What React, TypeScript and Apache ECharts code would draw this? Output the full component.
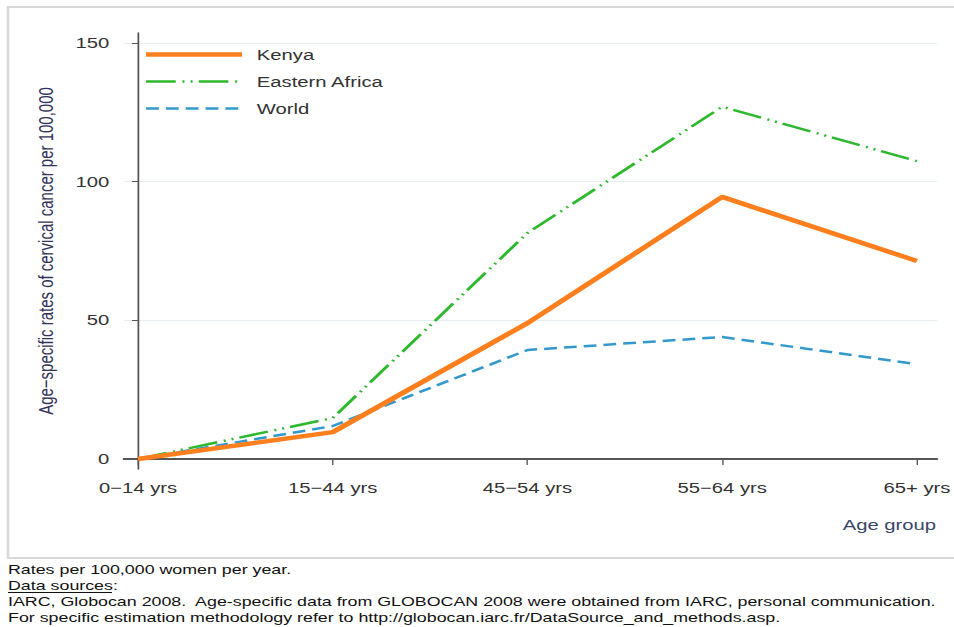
import React, { useEffect, useRef } from "react";
import * as echarts from "echarts";

const categories = ["0\u221214 yrs", "15\u221244 yrs", "45\u221254 yrs", "55\u221264 yrs", "65+ yrs"];
const kenya = [0, 9.7, 49, 94.5, 71.4];
const easternAfrica = [0, 14.8, 81.5, 127, 107.4];
const world = [0, 11.9, 39.3, 44, 34.2];
const yTicks = [0, 50, 100, 150];
const xTicks = [0, 1, 2, 3, 4];
const footnotes = [
  "Rates per 100,000 women per year.",
  "Data sources:",
  "IARC, Globocan 2008.  Age-specific data from GLOBOCAN 2008 were obtained from IARC, personal communication.",
  "For specific estimation methodology refer to http://globocan.iarc.fr/DataSource_and_methods.asp.",
];

const STRETCH = 1.35;
const W = 954 / STRETCH;
const H = 627;

const toPairs = (arr: number[]) => arr.map((v, i) => [i, v]);

export default function App() {
  const ref = useRef<HTMLDivElement>(null);
  useEffect(() => {
    if (!ref.current) return;
    const chart = echarts.init(ref.current, null, { renderer: "svg" });
    const font = "'Liberation Sans', Arial, sans-serif";
    const footY = [569, 585, 601, 617];
    const sx = (x: number) => x / STRETCH;
    chart.setOption({
      animation: false,
      backgroundColor: "#ffffff",
      grid: { left: sx(124), right: sx(16), top: 33, bottom: 158 },
      legend: {
        orient: "vertical",
        left: sx(143),
        top: 47,
        padding: 0,
        itemWidth: sx(96),
        itemHeight: 14,
        itemGap: 12,
        itemStyle: { opacity: 0 },
        lineStyle: { width: "inherit" },
        textStyle: { fontFamily: font, fontSize: 15, color: "#333", padding: [0, 0, 0, 6] },
        data: ["Kenya", "Eastern Africa", "World"],
      },
      xAxis: {
        type: "value",
        min: -0.072,
        max: 4.103,
        axisLine: { show: true, lineStyle: { color: "#555", width: 2 } },
        axisTick: { show: true, length: 6, customValues: xTicks, lineStyle: { color: "#555", width: 1 } },
        axisLabel: {
          customValues: xTicks,
          formatter: (v: number) => categories[Math.round(v)] ?? "",
          fontFamily: font,
          fontSize: 15,
          color: "#333",
          margin: 11,
        },
        splitLine: { show: false },
      },
      yAxis: {
        type: "value",
        min: -3.6,
        max: 153.6,
        name: "Age\u2212specific rates of cervical cancer per 100,000",
        nameLocation: "middle",
        nameGap: 50,
        nameRotate: 90,
        nameTextStyle: { fontFamily: font, fontSize: 15, color: "#33335a" },
        axisLine: { show: true, lineStyle: { color: "#555", width: 1.3 } },
        axisTick: { show: true, length: 4.5, customValues: yTicks, lineStyle: { color: "#555", width: 1 } },
        axisLabel: { customValues: yTicks, fontFamily: font, fontSize: 15, color: "#333", margin: 11 },
        splitLine: { show: true, lineStyle: { color: "#e6eef2", width: 1 } },
      },
      series: [
        {
          name: "Kenya",
          type: "line",
          data: toPairs(kenya),
          symbol: "none",
          color: "#ff7f1e",
          lineStyle: { color: "#ff7f1e", width: 4.5 },
          z: 3,
        },
        {
          name: "Eastern Africa",
          type: "line",
          data: toPairs(easternAfrica),
          symbol: "none",
          color: "#2db82d",
          lineStyle: { color: "#2db82d", width: 2.5, type: [22, 5, 1.5, 4.5, 1.5, 4.5] },
          z: 2,
        },
        {
          name: "World",
          type: "line",
          data: toPairs(world),
          symbol: "none",
          color: "#3399cc",
          lineStyle: { color: "#3399cc", width: 2.5, type: [9.5, 5.2] },
          z: 2,
        },
      ],
      graphic: [
        {
          type: "rect",
          shape: { x: sx(8), y: 7, width: sx(954), height: 551 },
          style: { fill: "none", stroke: "#d9d9d9", lineWidth: 2 },
          z: -1,
        },
        {
          type: "text",
          x: sx(936),
          y: 525,
          style: { text: "Age group", font: `15px ${font}`, fill: "#3a4668", textAlign: "right", textVerticalAlign: "middle" },
        },
        ...footnotes.map((t, i) => ({
          type: "text",
          x: sx(8),
          y: footY[i],
          style: { text: t, font: `13.2px ${font}`, fill: "#111", textAlign: "left", textVerticalAlign: "middle" },
        })),
        {
          type: "line",
          shape: { x1: sx(8), y1: 592.5, x2: sx(112), y2: 592.5 },
          style: { stroke: "#111", lineWidth: 1 },
        },
      ],
    });
    return () => chart.dispose();
  }, []);
  return (
    <div style={{ position: "fixed", left: 0, top: 0, width: 954, height: H, overflow: "hidden", background: "#fff" }}>
      <div
        ref={ref}
        style={{ width: W, height: H, transform: `scaleX(${STRETCH})`, transformOrigin: "0 0" }}
      />
    </div>
  );
}
